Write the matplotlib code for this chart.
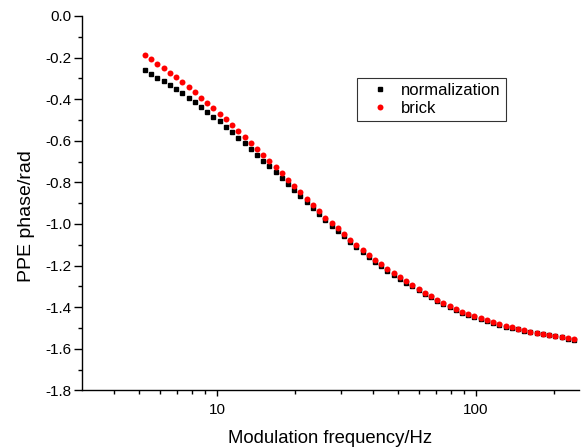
import matplotlib
matplotlib.use("Agg")
import matplotlib.pyplot as plt
from matplotlib.ticker import FixedLocator, MultipleLocator, FormatStrFormatter, NullFormatter

plt.rcParams['font.family'] = ['Liberation Sans', 'DejaVu Sans']

freq = [5.259, 5.556, 5.872, 6.207, 6.559, 6.933, 7.326, 7.743, 8.183, 8.650,
        9.141, 9.661, 10.21, 10.79, 11.40, 12.05, 12.74, 13.46, 14.23, 15.04,
        15.89, 16.80, 17.75, 18.76, 19.83, 20.96, 22.14, 23.40, 24.74, 26.14,
        27.63, 29.20, 30.86, 32.61, 34.47, 36.43, 38.50, 40.69, 43.00, 45.45,
        48.03, 50.76, 53.65, 56.70, 59.93, 63.33, 66.94, 70.74, 74.77, 79.02,
        83.51, 88.26, 93.26, 98.56, 104.2, 110.1, 116.3, 123.0, 130.0, 137.3,
        145.1, 153.4, 162.1, 171.4, 181.1, 191.4, 202.3, 213.8, 225.9, 238.8]

normalization = [-0.260, -0.279, -0.297, -0.314, -0.333, -0.351, -0.372, -0.393, -0.415, -0.436,
                 -0.460, -0.484, -0.506, -0.532, -0.559, -0.585, -0.612, -0.640, -0.667, -0.696,
                 -0.723, -0.750, -0.779, -0.810, -0.836, -0.865, -0.895, -0.923, -0.953, -0.983,
                 -1.009, -1.033, -1.060, -1.088, -1.113, -1.137, -1.159, -1.183, -1.202, -1.225,
                 -1.244, -1.265, -1.284, -1.299, -1.320, -1.338, -1.353, -1.371, -1.385, -1.400,
                 -1.415, -1.427, -1.440, -1.449, -1.459, -1.468, -1.477, -1.484, -1.494, -1.500,
                 -1.507, -1.513, -1.521, -1.526, -1.531, -1.535, -1.540, -1.545, -1.551, -1.557]

brick = [-0.188, -0.208, -0.229, -0.250, -0.273, -0.295, -0.319, -0.343, -0.367, -0.393,
         -0.418, -0.444, -0.470, -0.497, -0.526, -0.555, -0.582, -0.609, -0.638, -0.667,
         -0.697, -0.726, -0.757, -0.790, -0.818, -0.848, -0.879, -0.908, -0.939, -0.970,
         -0.997, -1.021, -1.049, -1.077, -1.103, -1.127, -1.150, -1.174, -1.193, -1.217,
         -1.236, -1.257, -1.276, -1.292, -1.313, -1.331, -1.347, -1.365, -1.379, -1.394,
         -1.409, -1.422, -1.435, -1.444, -1.454, -1.464, -1.473, -1.480, -1.490, -1.496,
         -1.504, -1.510, -1.518, -1.523, -1.528, -1.533, -1.538, -1.543, -1.549, -1.555]

xmajor = [10, 100]
xminor = [4, 5, 6, 7, 8, 9, 20, 30, 40, 50, 60, 70, 80, 90, 200]

fig = plt.figure(figsize=(5.82, 4.48), dpi=100)
ax = fig.add_axes([0.1409, 0.1288, 0.995 - 0.1409, 0.9643 - 0.1288])

ax.plot(freq, normalization, linestyle='none', marker='s', markersize=3.4,
        color='black', label='normalization')
ax.plot(freq, brick, linestyle='none', marker='o', markersize=4.3,
        color='red', markeredgewidth=0, label='brick')

ax.set_xscale('log')
ax.set_xlim(3, 250)
ax.set_ylim(-1.8, 0.0)

ax.xaxis.set_major_locator(FixedLocator(xmajor))
ax.xaxis.set_minor_locator(FixedLocator(xminor))
ax.xaxis.set_major_formatter(FormatStrFormatter('%d'))
ax.xaxis.set_minor_formatter(NullFormatter())
ax.yaxis.set_major_locator(MultipleLocator(0.2))
ax.yaxis.set_minor_locator(MultipleLocator(0.1))
ax.yaxis.set_major_formatter(FormatStrFormatter('%.1f'))

for s in ['top', 'right']:
    ax.spines[s].set_visible(False)
for s in ['left', 'bottom']:
    ax.spines[s].set_linewidth(1.0)

ax.tick_params(axis='both', which='major', direction='out', width=1.0, labelsize=11)
ax.tick_params(axis='y', which='major', length=5.5, pad=2)
ax.tick_params(axis='x', which='major', length=4.5, pad=5)
ax.tick_params(axis='both', which='minor', direction='out', width=1.0, length=2.8)

ax.set_xlabel('Modulation frequency/Hz', fontsize=13.3, labelpad=9)
ax.set_ylabel('PPE phase/rad', fontsize=14)
ax.yaxis.set_label_coords(-0.094, 0.465)

leg = ax.legend(loc='upper left', bbox_to_anchor=(0.553, 0.835), borderaxespad=0,
                fontsize=12, frameon=True, fancybox=False, handletextpad=0.2,
                handlelength=2.15, borderpad=0.3, labelspacing=0.2)
leg.get_frame().set_edgecolor('black')
leg.get_frame().set_linewidth(0.8)

fig.savefig('out.png', dpi=100)
